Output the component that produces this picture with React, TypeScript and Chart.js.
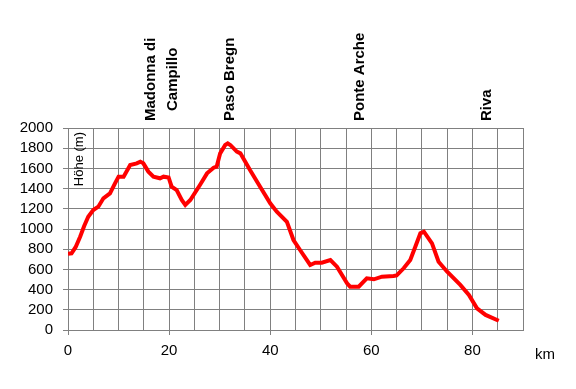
import React, { useEffect, useRef } from "react";
import { Chart, registerables } from "chart.js";

Chart.register(...registerables);

const distKm = [0, 0.7, 1.5, 2.4, 3.2, 4.0, 5.0, 6.0, 7.0, 8.3, 9.3, 10.0, 11.0, 12.3, 13.6, 14.3, 14.9, 15.9, 16.9, 18.2, 18.9, 19.9, 20.5, 21.5, 22.5, 23.2, 24.2, 26.1, 27.5, 28.8, 29.4, 30.1, 31.1, 31.6, 32.1, 33.4, 34.1, 36.0, 38.0, 40.0, 41.3, 43.3, 44.6, 45.9, 47.9, 48.9, 50.2, 51.9, 53.2, 55.2, 55.8, 57.5, 59.1, 60.5, 62.1, 64.4, 65.0, 66.4, 67.7, 68.7, 69.7, 70.4, 72.0, 73.3, 75.0, 77.6, 79.3, 80.9, 82.6, 85.2];
const heightM = [755, 759, 820, 924, 1030, 1122, 1188, 1221, 1304, 1353, 1452, 1518, 1518, 1634, 1650, 1667, 1650, 1568, 1518, 1502, 1518, 1510, 1419, 1386, 1287, 1238, 1287, 1436, 1551, 1607, 1617, 1749, 1832, 1848, 1832, 1766, 1749, 1584, 1419, 1254, 1172, 1072, 891, 792, 644, 667, 667, 693, 627, 462, 429, 429, 512, 502, 528, 535, 540, 611, 693, 825, 957, 973, 858, 676, 577, 446, 347, 215, 149, 92];

const placeKm = [18.5, 32.1, 57.8, 82.8];
const placeNames = [["Madonna di", "Campillo"], ["Paso Bregn"], ["Ponte Arche"], ["Riva"]];

const xMin = 0;
const xMax = 90;
const xStep = 5;
const xLabelStep = 20;
const yMin = 0;
const yMax = 2000;
const yStep = 200;
const yTitle = "Höhe (m)";
const xTitle = "km";

const FONT = "'Liberation Sans', Arial, sans-serif";
const GRID = "#808080";

const overlayPlugin = {
  id: "overlay",
  afterDraw(chart: any) {
    const ctx = chart.ctx;
    const xs = chart.scales.x;
    const area = chart.chartArea;
    ctx.save();
    ctx.fillStyle = "#000";
    ctx.font = `bold 15px ${FONT}`;
    placeKm.forEach((km, i) => {
      const lines = placeNames[i];
      const cx = xs.getPixelForValue(km);
      const lineH = 22;
      const widths = lines.map((l) => ctx.measureText(l).width);
      const maxW = Math.max(...widths);
      const baseY = 121;
      lines.forEach((l, j) => {
        const lx = cx + (j - (lines.length - 1) / 2) * lineH;
        const w = widths[j];
        ctx.save();
        ctx.translate(lx, baseY - (maxW - w) / 2);
        ctx.rotate(-Math.PI / 2);
        ctx.textAlign = "left";
        ctx.textBaseline = "middle";
        ctx.fillText(l, 0, 0);
        ctx.restore();
      });
    });
    ctx.font = `13px ${FONT}`;
    ctx.save();
    ctx.translate(area.left + 11, area.top + 4);
    ctx.rotate(-Math.PI / 2);
    ctx.textAlign = "right";
    ctx.textBaseline = "middle";
    ctx.fillText(yTitle, 0, 0);
    ctx.restore();
    ctx.font = `15px ${FONT}`;
    ctx.textAlign = "center";
    ctx.textBaseline = "middle";
    ctx.fillText(xTitle, 545, 355);
    ctx.restore();
  },
};

export default function App() {
  const ref = useRef<HTMLCanvasElement | null>(null);
  useEffect(() => {
    if (!ref.current) return;
    const chart = new Chart(ref.current, {
      type: "line",
      data: {
        datasets: [
          {
            data: distKm.map((x, i) => ({ x, y: heightM[i] })),
            borderColor: "#ff0000",
            borderWidth: 4,
            pointRadius: 0,
            tension: 0,
            fill: false,
          },
        ],
      },
      options: {
        responsive: false,
        animation: false,
        events: [],
        layout: { padding: { top: 128, right: 53, left: 0, bottom: 0 } },
        plugins: { legend: { display: false }, tooltip: { enabled: false } },
        scales: {
          x: {
            type: "linear",
            min: xMin,
            max: xMax,
            afterFit: (s: any) => {
              s.height = 59;
            },
            ticks: {
              stepSize: xStep,
              autoSkip: false,
              maxRotation: 0,
              color: "#000",
              font: { family: FONT, size: 15 },
              padding: 7,
              callback: (v: any) => (Number(v) % xLabelStep === 0 ? String(v) : ""),
            },
            grid: {
              color: GRID,
              lineWidth: 1,
              tickLength: 5,
              tickColor: (c: any) => (c.tick && c.tick.value % xLabelStep === 0 ? GRID : "rgba(0,0,0,0)"),
            },
            border: { color: GRID, width: 1 },
          },
          y: {
            min: yMin,
            max: yMax,
            afterFit: (s: any) => {
              s.width = 68;
            },
            ticks: {
              stepSize: yStep,
              autoSkip: false,
              color: "#000",
              font: { family: FONT, size: 15 },
              padding: 10,
              callback: (v: any) => String(v),
            },
            grid: { color: GRID, lineWidth: 1, tickLength: 5, tickColor: GRID },
            border: { color: GRID, width: 1 },
          },
        },
      },
      plugins: [overlayPlugin],
    });
    return () => chart.destroy();
  }, []);
  return (
    <div style={{ position: "absolute", left: 0, top: 0, width: 576, height: 389, background: "#fff" }}>
      <canvas ref={ref} width={576} height={389} style={{ display: "block" }} />
    </div>
  );
}
